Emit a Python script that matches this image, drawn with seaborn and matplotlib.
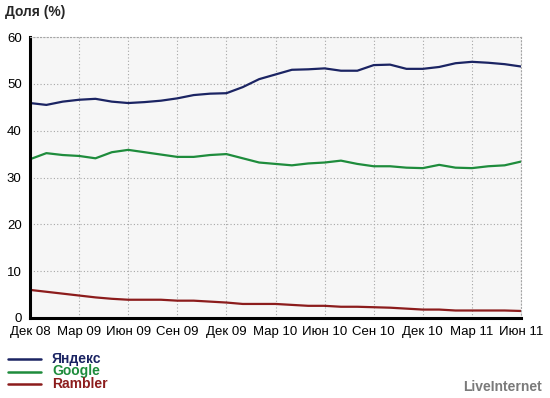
import matplotlib

matplotlib.use("Agg")
import matplotlib.pyplot as plt
import numpy as np
import pandas as pd
import seaborn as sns

# --- Data (monthly, Dec 08 .. Jun 11) ---
MONTH_IDX = list(range(31))
TICK_LABELS = ["Дек 08", "Мар 09", "Июн 09", "Сен 09", "Дек 09", "Мар 10",
               "Июн 10", "Сен 10", "Дек 10", "Мар 11", "Июн 11"]

YANDEX = [45.9, 45.5, 46.2, 46.6, 46.8, 46.2, 45.9, 46.1, 46.4, 46.9, 47.6,
          47.9, 48.0, 49.3, 51.0, 52.0, 53.0, 53.1, 53.3, 52.8, 52.8, 54.0,
          54.1, 53.2, 53.2, 53.6, 54.4, 54.7, 54.5, 54.2, 53.7]
GOOGLE = [33.9, 35.2, 34.8, 34.6, 34.1, 35.4, 35.9, 35.4, 34.9, 34.4, 34.4,
          34.8, 35.0, 34.1, 33.2, 32.9, 32.6, 33.0, 33.2, 33.6, 32.9, 32.4,
          32.4, 32.1, 32.0, 32.7, 32.1, 32.0, 32.4, 32.6, 33.4]
RAMBLER = [6.0, 5.6, 5.2, 4.8, 4.4, 4.1, 3.9, 3.9, 3.9, 3.7, 3.7, 3.5, 3.3,
           3.0, 3.0, 3.0, 2.8, 2.6, 2.6, 2.4, 2.4, 2.3, 2.2, 2.0, 1.8, 1.8,
           1.6, 1.6, 1.6, 1.6, 1.5]

SERIES = {"Яндекс": YANDEX, "Google": GOOGLE, "Rambler": RAMBLER}
COLORS = {"Яндекс": "#1b2463", "Google": "#1e8c3c", "Rambler": "#8c1c1c"}

df = pd.concat(
    [pd.DataFrame({"month": MONTH_IDX, "value": vals, "engine": name})
     for name, vals in SERIES.items()],
    ignore_index=True,
)

sns.set_style("white")
plt.rcParams["font.family"] = ["Liberation Sans", "DejaVu Sans"]

W, H = 550, 398
fig = plt.figure(figsize=(W / 100, H / 100), dpi=100)
ax = fig.add_axes([30 / W, 1 - 318 / H, (521 - 30) / W, (318 - 37) / H])
ax.set_facecolor("#f6f6f6")

sns.lineplot(data=df, x="month", y="value", hue="engine", palette=COLORS,
             linewidth=1.6, legend=False, ax=ax)

ax.set_xlim(0, 30)
ax.set_ylim(0, 60)
ax.set_xticks(np.arange(0, 31, 3))
ax.set_xticklabels(TICK_LABELS)
ax.set_yticks(np.arange(0, 61, 10))
ax.set_xlabel("")
ax.set_ylabel("")
ax.tick_params(axis="both", labelsize=9.5, length=4, width=1.2, pad=2,
               colors="black", direction="out")

# dotted grid, top/right edges drawn the same way
ax.grid(True, linestyle=(0, (1, 2)), color="#a6a6a6", linewidth=0.8)
for side in ("top", "right"):
    ax.spines[side].set_visible(True)
    ax.spines[side].set_linestyle((0, (1, 2)))
    ax.spines[side].set_color("#a6a6a6")
    ax.spines[side].set_linewidth(0.8)
for side in ("left", "bottom"):
    ax.spines[side].set_color("black")
    ax.spines[side].set_linewidth(2.2)

fig.text(5 / W, 1 - 12 / H, "Доля (%)", fontsize=10, fontweight="bold",
         va="center", ha="left")

# hand-drawn legend under the axes
for i, (name, color) in enumerate(COLORS.items()):
    y = 1 - (359 + i * 12.5) / H
    fig.add_artist(plt.Line2D([8 / W, 41 / W], [y, y], color=color,
                              linewidth=1.8, transform=fig.transFigure))
    fig.text(52 / W, y, name, color=color, fontsize=10, fontweight="bold",
             va="center", ha="left")

fig.text(542 / W, 1 - 387 / H, "LiveInternet", color="#7a7a7a", fontsize=10,
         fontweight="bold", va="center", ha="right")

fig.savefig("out.png", dpi=100, facecolor="white")
